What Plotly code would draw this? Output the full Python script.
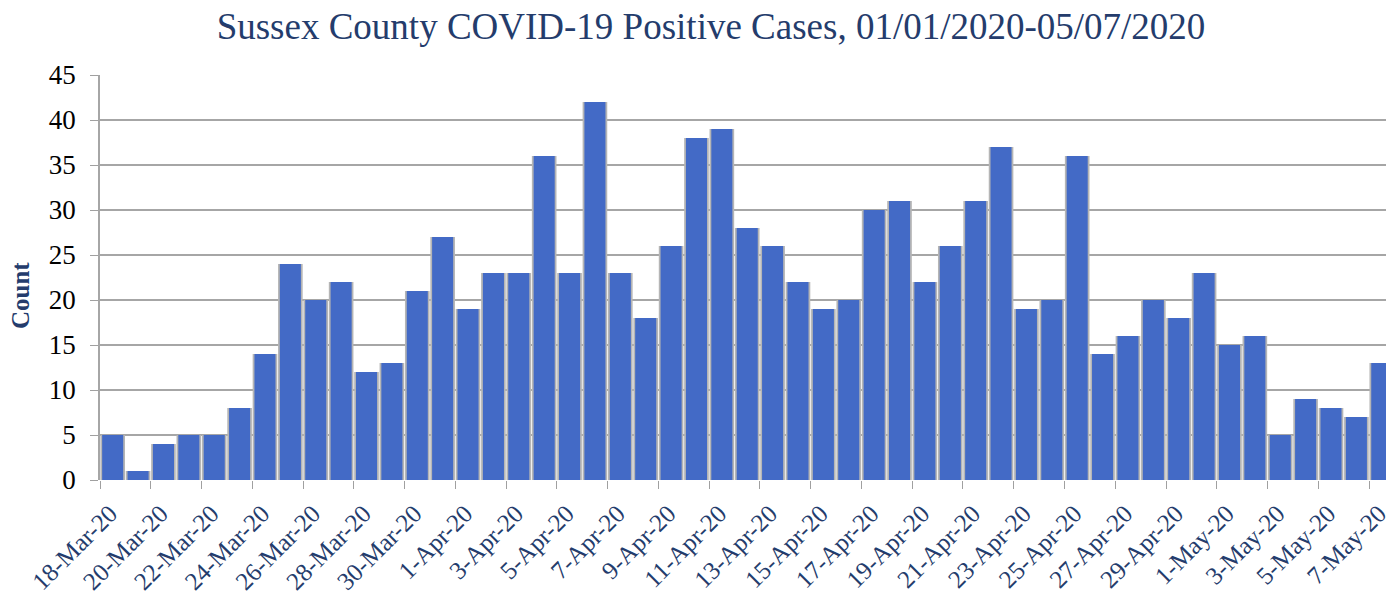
import plotly.graph_objects as go
import pandas as pd

start_date = "2020-03-18"
dates = pd.date_range(start_date, periods=51, freq="D")
counts = [5, 1, 4, 5, 5, 8, 14, 24, 20, 22, 12, 13, 21, 27, 19, 23, 23, 36, 23, 42,
          23, 18, 26, 38, 39, 28, 26, 22, 19, 20, 30, 31, 22, 26, 31, 37, 19, 20, 36, 14,
          16, 20, 18, 23, 15, 16, 5, 9, 8, 7, 13]

title_text = "Sussex County COVID-19 Positive Cases, 01/01/2020-05/07/2020"
y_title = "Count"
y_ticks = [0, 5, 10, 15, 20, 25, 30, 35, 40, 45]

DAY = 86400000
navy = "#243c6c"
serif = "Liberation Serif, Times New Roman, serif"

fig = go.Figure()
# soft shadow behind bars
fig.add_trace(go.Bar(
    x=dates, y=counts, xperiod=DAY, xperiodalignment="middle",
    width=0.97 * DAY, marker=dict(color="#b5b5b5", line=dict(width=0)),
    hoverinfo="skip", showlegend=False,
))
fig.add_trace(go.Bar(
    x=dates, y=counts, xperiod=DAY, xperiodalignment="middle",
    width=0.83 * DAY, marker=dict(color="#436ac6", line=dict(width=0)),
    showlegend=False,
))

fig.update_layout(
    width=1386, height=591,
    margin=dict(l=100, r=0, t=75, b=111),
    paper_bgcolor="white", plot_bgcolor="white",
    barmode="overlay",
    title=dict(text=title_text, x=711 / 1386, xanchor="center",
               y=1 - 26 / 591, yanchor="middle", yref="container",
               font=dict(family=serif, size=37, color=navy)),
    font=dict(family=serif),
    annotations=[dict(
        text="<b>" + y_title + "</b>", textangle=-90,
        xref="paper", yref="paper", x=(20 - 100) / 1286, y=(480 - 296) / 405,
        xanchor="center", yanchor="middle", showarrow=False,
        font=dict(family=serif, size=25, color=navy),
    )],
)
fig.update_xaxes(
    type="date", automargin=False,
    range=[dates[0], dates[-1] + pd.Timedelta(hours=16)],
    tick0=dates[0], dtick=2 * DAY, tickformat="%-d-%b-%y",
    tickangle=-45, ticks="outside", ticklen=8, tickcolor="#a0a0a0",
    ticklabelstandoff=0, ticklabelshift=10, ticklabeloverflow="allow",
    tickfont=dict(family=serif, size=25, color=navy),
    showgrid=False, showline=False, zeroline=False,
)
fig.update_yaxes(
    automargin=False,
    range=[0, 45], tickvals=y_ticks,
    ticks="outside", ticklen=8, tickcolor="#a0a0a0",
    ticklabelstandoff=9,
    tickfont=dict(family=serif, size=27, color="black"),
    showgrid=True, gridcolor="#a6a6a6", gridwidth=1.5,
    showline=True, linecolor="#a6a6a6", linewidth=1.5,
    zeroline=False,
)

fig.write_html("out.html", config={"displayModeBar": False},
               post_script="document.body.style.margin='0px';document.body.style.overflow='hidden';")
